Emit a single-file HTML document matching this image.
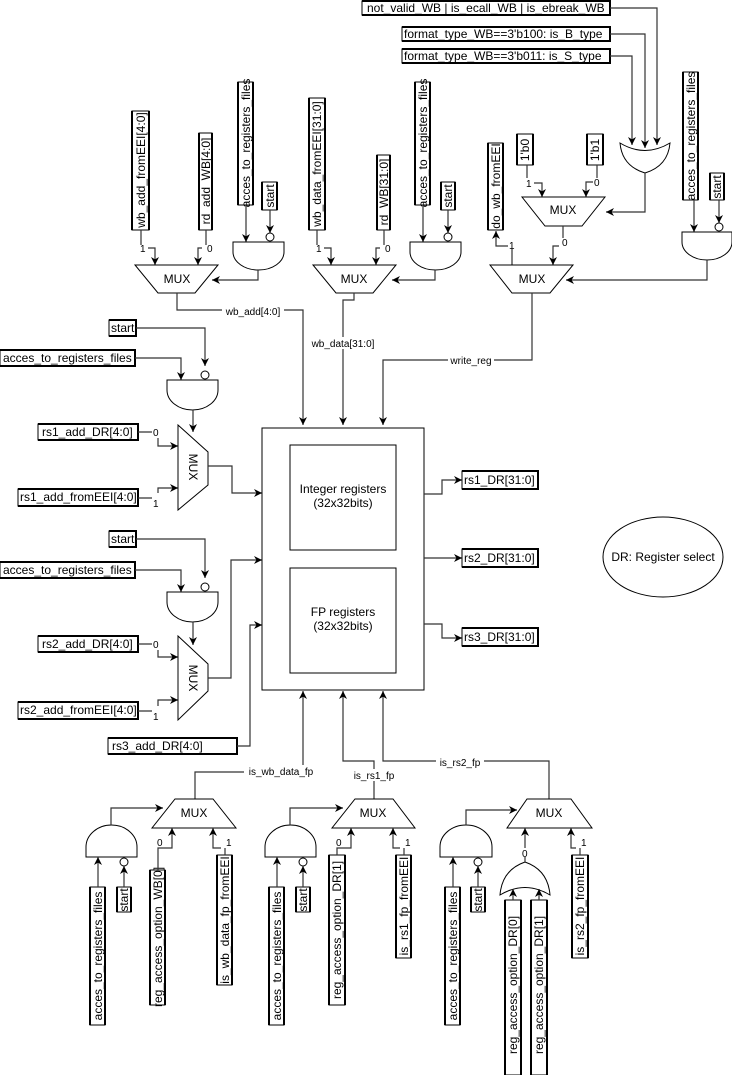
<!DOCTYPE html>
<html><head><meta charset="utf-8"><style>
html,body{margin:0;padding:0;background:#fff}
svg{display:block}
text{font-family:"Liberation Sans",Arial,sans-serif;font-size:12px;fill:#000}
.l{fill:none;stroke:#333;stroke-width:1.2}
.g{fill:#fff;stroke:#000;stroke-width:1}
.b{fill:#fff;stroke:#000;stroke-width:1}
.t{fill:none;stroke:#000;stroke-width:2}
.s{font-size:10px}
</style></head><body>
<svg width="732" height="1075" viewBox="0 0 732 1075" xmlns="http://www.w3.org/2000/svg">
<defs><marker id="a" viewBox="0 0 10 10" refX="10" refY="5" markerWidth="8" markerHeight="8" orient="auto" markerUnits="userSpaceOnUse"><path d="M0,0 L10,5 L0,10 L3,5 Z" fill="#000"/></marker></defs>

<!-- top horizontal boxes -->
<rect class="b" x="362" y="1" width="248" height="14"/><path class="t" d="M362 1H610V15H362"/><text x="367" y="12">not_valid_WB | is_ecall_WB | is_ebreak_WB</text>
<rect class="b" x="402" y="27" width="208" height="14"/><path class="t" d="M402 27H610V41H402"/><text x="404" y="38">format_type_WB==3'b100: is_B_type</text>
<rect class="b" x="402" y="49" width="208" height="14"/><path class="t" d="M402 49H610V63H402"/><text x="404" y="60">format_type_WB==3'b011: is_S_type</text>
<path class="l" d="M610 8H657V145" marker-end="url(#a)"/>
<path class="l" d="M610 34H645V148" marker-end="url(#a)"/>
<path class="l" d="M610 56H632V145" marker-end="url(#a)"/>
<path class="g" d="M620 143 Q645 158 670 143 Q668 166 645 173 Q622 166 620 143 Z"/>
<path class="l" d="M645 173V212H606" marker-end="url(#a)"/>

<!-- group 1 -->
<rect class="b" x="132" y="111" width="17" height="119"/><path class="t" d="M132 111V230M149 111V230"/>
<text transform="translate(141,170) rotate(-90)" text-anchor="middle" dominant-baseline="central">wb_add_fromEEI[4:0]</text>
<rect class="b" x="199" y="133" width="13" height="97"/><path class="t" d="M199 133V230M212 133V230"/>
<text transform="translate(206,181) rotate(-90)" text-anchor="middle" dominant-baseline="central">rd_add_WB[4:0]</text>
<rect class="b" x="238" y="82" width="15" height="123"/><path class="t" d="M238 82V205M253 82V205"/>
<text transform="translate(246,143) rotate(-90)" text-anchor="middle" dominant-baseline="central">acces_to_registers_files</text>
<rect class="b" x="262" y="182" width="15" height="28"/><path class="t" d="M262 182V210M277 182V210"/>
<text transform="translate(270,196) rotate(-90)" text-anchor="middle" dominant-baseline="central">start</text>
<path class="l" d="M141 230V245M148 248H155V265" marker-end="url(#a)"/><text x="140" y="252" class="s">1</text>
<path class="l" d="M206 230V245M202 248H198V265" marker-end="url(#a)"/><text x="207" y="252" class="s">0</text>
<path class="l" d="M246 205V242" marker-end="url(#a)"/>
<path class="l" d="M270 210V233" marker-end="url(#a)"/>
<circle class="g" cx="270" cy="237" r="4"/>
<path class="g" d="M233 242H284V252A25.5 18 0 0 1 233 252Z"/>
<path class="l" d="M258 270V280H212" marker-end="url(#a)"/>
<path class="g" d="M135 265H218L195 293H158Z"/><text x="177" y="283" text-anchor="middle">MUX</text>
<path class="l" d="M177 293V310H303V425" marker-end="url(#a)"/>
<rect x="222" y="305" width="62" height="12" fill="#fff"/><text x="253" y="315" text-anchor="middle" class="s">wb_add[4:0]</text>

<!-- group 2 -->
<rect class="b" x="309" y="98" width="16" height="132"/><path class="t" d="M309 98V230M325 98V230"/>
<text transform="translate(317,164) rotate(-90)" text-anchor="middle" dominant-baseline="central">wb_data_fromEEI[31:0]</text>
<rect class="b" x="377" y="155" width="13" height="75"/><path class="t" d="M377 155V230M390 155V230"/>
<text transform="translate(384,192) rotate(-90)" text-anchor="middle" dominant-baseline="central">rd_WB[31:0]</text>
<rect class="b" x="415" y="82" width="15" height="123"/><path class="t" d="M415 82V205M430 82V205"/>
<text transform="translate(423,143) rotate(-90)" text-anchor="middle" dominant-baseline="central">acces_to_registers_files</text>
<rect class="b" x="441" y="182" width="14" height="28"/><path class="t" d="M441 182V210M455 182V210"/>
<text transform="translate(448,196) rotate(-90)" text-anchor="middle" dominant-baseline="central">start</text>
<path class="l" d="M317 230V245M324 248H331V265" marker-end="url(#a)"/><text x="316" y="252" class="s">1</text>
<path class="l" d="M384 230V245M380 248H376V265" marker-end="url(#a)"/><text x="385" y="252" class="s">0</text>
<path class="l" d="M423 205V242" marker-end="url(#a)"/>
<path class="l" d="M448 210V233" marker-end="url(#a)"/>
<circle class="g" cx="448" cy="237" r="4"/>
<path class="g" d="M410 242H461V252A25.5 18 0 0 1 410 252Z"/>
<path class="l" d="M435 270V280H392" marker-end="url(#a)"/>
<path class="g" d="M313 265H396L373 293H336Z"/><text x="354" y="283" text-anchor="middle">MUX</text>
<path class="l" d="M354 293V300H343V425" marker-end="url(#a)"/>
<rect x="318" y="337" width="50" height="12" fill="#fff"/><text x="343" y="347" text-anchor="middle" class="s">wb_data[31:0]</text>

<!-- group 3 -->
<rect class="b" x="488" y="143" width="15" height="87"/><path class="t" d="M488 143V230M503 143V230"/>
<text transform="translate(496,186) rotate(-90)" text-anchor="middle" dominant-baseline="central">do_wb_fromEEI</text>
<rect class="b" x="517" y="134" width="16" height="31"/><path class="t" d="M517 134V165M533 134V165"/>
<text transform="translate(525,150) rotate(-90)" text-anchor="middle" dominant-baseline="central">1'b0</text>
<rect class="b" x="587" y="134" width="16" height="31"/><path class="t" d="M587 134V165M603 134V165"/>
<text transform="translate(595,150) rotate(-90)" text-anchor="middle" dominant-baseline="central">1'b1</text>
<path class="l" d="M527 165V178M534 183H542V197" marker-end="url(#a)"/><text x="526" y="187" class="s">1</text>
<path class="l" d="M597 165V178M593 182H586V197" marker-end="url(#a)"/><text x="594" y="186" class="s">0</text>
<path class="g" d="M522 197H605L582 226H545Z"/><text x="563" y="214" text-anchor="middle">MUX</text>
<path class="l" d="M563 226V238M559 246H553V265" marker-end="url(#a)"/><text x="562" y="246" class="s">0</text>
<path class="l" d="M512 265V249M508 246H496V231" marker-end="url(#a)"/><text x="509" y="249" class="s">1</text>
<path class="g" d="M490 265H573L550 293H512Z"/><text x="532" y="283" text-anchor="middle">MUX</text>
<rect class="b" x="683" y="72" width="15" height="128"/><path class="t" d="M683 72V200M698 72V200"/>
<text transform="translate(691,136) rotate(-90)" text-anchor="middle" dominant-baseline="central">acces_to_registers_files</text>
<rect class="b" x="710" y="173" width="14" height="27"/><path class="t" d="M710 173V200M724 173V200"/>
<text transform="translate(717,187) rotate(-90)" text-anchor="middle" dominant-baseline="central">start</text>
<path class="l" d="M694 200V232" marker-end="url(#a)"/>
<path class="l" d="M719 200V223" marker-end="url(#a)"/>
<circle class="g" cx="719" cy="227" r="4"/>
<path class="g" d="M682 232H732V242A25 18 0 0 1 682 242Z"/>
<path class="l" d="M707 260V280H566" marker-end="url(#a)"/>
<path class="l" d="M532 293V360H383V425" marker-end="url(#a)"/>
<rect x="448" y="354" width="46" height="12" fill="#fff"/><text x="471" y="364" text-anchor="middle" class="s">write_reg</text>

<!-- left side rs1 -->
<rect class="b" x="109" y="320" width="27" height="16"/><path class="t" d="M109 320H136V336H109"/><text x="111" y="332">start</text>
<rect class="b" x="0" y="350" width="135" height="16"/><path class="t" d="M0 350H135V366H0"/><text x="3" y="362">acces_to_registers_files</text>
<path class="l" d="M136 328H205V366" marker-end="url(#a)"/>
<circle class="g" cx="205" cy="375" r="4"/>
<path class="l" d="M135 358H181V380" marker-end="url(#a)"/>
<path class="g" d="M167 380H218V390A25.5 20 0 0 1 167 390Z"/>
<path class="l" d="M193 410V432" marker-end="url(#a)"/>
<rect class="b" x="38" y="424" width="100" height="16"/><path class="t" d="M38 424H138V440H38"/><text x="42" y="436">rs1_add_DR[4:0]</text>
<rect class="b" x="18" y="489" width="120" height="17"/><path class="t" d="M18 489H138V506H18"/><text x="20" y="501">rs1_add_fromEEI[4:0]</text>
<path class="l" d="M138 432H152M158 438V446H178" marker-end="url(#a)"/><text x="153" y="436" class="s">0</text>
<path class="l" d="M138 498H152M158 493V488H178" marker-end="url(#a)"/><text x="153" y="507" class="s">1</text>
<path class="g" d="M178 425L208 452V485L178 510Z"/>
<text transform="translate(193,467) rotate(90)" text-anchor="middle" dominant-baseline="central">MUX</text>
<path class="l" d="M208 466H232V493H262" marker-end="url(#a)"/>

<!-- left side rs2 -->
<rect class="b" x="109" y="531" width="27" height="16"/><path class="t" d="M109 531H136V547H109"/><text x="111" y="543">start</text>
<rect class="b" x="0" y="562" width="135" height="16"/><path class="t" d="M0 562H135V578H0"/><text x="3" y="574">acces_to_registers_files</text>
<path class="l" d="M136 539H205V578" marker-end="url(#a)"/>
<circle class="g" cx="205" cy="587" r="4"/>
<path class="l" d="M135 570H181V592" marker-end="url(#a)"/>
<path class="g" d="M167 592H218V602A25.5 20 0 0 1 167 602Z"/>
<path class="l" d="M193 622V645" marker-end="url(#a)"/>
<rect class="b" x="38" y="636" width="100" height="16"/><path class="t" d="M38 636H138V652H38"/><text x="42" y="648">rs2_add_DR[4:0]</text>
<rect class="b" x="18" y="702" width="120" height="17"/><path class="t" d="M18 702H138V719H18"/><text x="20" y="714">rs2_add_fromEEI[4:0]</text>
<path class="l" d="M138 644H152M158 650V657H178" marker-end="url(#a)"/><text x="153" y="648" class="s">0</text>
<path class="l" d="M138 711H152M158 706V700H178" marker-end="url(#a)"/><text x="153" y="720" class="s">1</text>
<path class="g" d="M178 636L208 664V691L178 720Z"/>
<text transform="translate(193,678) rotate(90)" text-anchor="middle" dominant-baseline="central">MUX</text>
<path class="l" d="M208 678H231V560H262" marker-end="url(#a)"/>
<rect class="b" x="108" y="738" width="129" height="16"/><path class="t" d="M108 738H237V754H108"/><text x="112" y="750">rs3_add_DR[4:0]</text>
<path class="l" d="M237 746H250V625H262" marker-end="url(#a)"/>

<!-- register file -->
<rect class="g" x="262" y="428" width="162" height="262"/>
<rect class="g" x="290" y="445" width="106" height="105"/>
<text x="343" y="493" text-anchor="middle">Integer registers</text><text x="343" y="507" text-anchor="middle">(32x32bits)</text>
<rect class="g" x="290" y="568" width="106" height="105"/>
<text x="343" y="616" text-anchor="middle">FP registers</text><text x="343" y="630" text-anchor="middle">(32x32bits)</text>
<path class="l" d="M424 494H442V480H462" marker-end="url(#a)"/>
<path class="l" d="M424 558H462" marker-end="url(#a)"/>
<path class="l" d="M424 624H442V638H462" marker-end="url(#a)"/>
<rect class="b" x="462" y="471" width="76" height="18"/><path class="t" d="M462 471H538V489H462"/><text x="464" y="484">rs1_DR[31:0]</text>
<rect class="b" x="462" y="549" width="76" height="18"/><path class="t" d="M462 549H538V567H462"/><text x="464" y="562">rs2_DR[31:0]</text>
<rect class="b" x="462" y="628" width="76" height="18"/><path class="t" d="M462 628H538V646H462"/><text x="464" y="641">rs3_DR[31:0]</text>
<ellipse class="g" cx="663" cy="557" rx="60" ry="40"/><text x="663" y="561" text-anchor="middle">DR: Register select</text>

<!-- bottom connections -->
<path class="l" d="M195 800V772H303V691" marker-end="url(#a)"/>
<rect x="244" y="765" width="74" height="12" fill="#fff"/><text x="281" y="775" text-anchor="middle" class="s">is_wb_data_fp</text>
<path class="l" d="M374 800V761H343V691" marker-end="url(#a)"/>
<rect x="350" y="769" width="48" height="12" fill="#fff"/><text x="374" y="779" text-anchor="middle" class="s">is_rs1_fp</text>
<path class="l" d="M549 800V761H383V691" marker-end="url(#a)"/>
<rect x="436" y="756" width="48" height="12" fill="#fff"/><text x="460" y="766" text-anchor="middle" class="s">is_rs2_fp</text>

<!-- bottom group 1 -->
<path class="g" d="M175 799H213L236 828H152Z"/><text x="194" y="817" text-anchor="middle">MUX</text>
<path class="g" d="M86 857H137V847A25.5 22 0 0 0 86 847Z"/>
<path class="l" d="M111 825V808H163" marker-end="url(#a)"/>
<rect class="b" x="90" y="887" width="15" height="138"/><path class="t" d="M90 887V1025M105 887V1025"/>
<text transform="translate(98,956) rotate(-90)" text-anchor="middle" dominant-baseline="central">acces_to_registers_files</text>
<rect class="b" x="117" y="887" width="14" height="25"/><path class="t" d="M117 887V912M131 887V912"/>
<text transform="translate(124,900) rotate(-90)" text-anchor="middle" dominant-baseline="central">start</text>
<path class="l" d="M98 887V857" marker-end="url(#a)"/>
<path class="l" d="M124 887V866" marker-end="url(#a)"/><circle class="g" cx="124" cy="862" r="4"/>
<rect class="b" x="150" y="870" width="15" height="135"/><path class="t" d="M150 870V1005M165 870V1005"/>
<text transform="translate(158,937) rotate(-90)" text-anchor="middle" dominant-baseline="central">reg_access_option_WB[0]</text>
<rect class="b" x="217" y="855" width="15" height="130"/><path class="t" d="M217 855V985M232 855V985"/>
<text transform="translate(225,920) rotate(-90)" text-anchor="middle" dominant-baseline="central">is_wb_data_fp_fromEEI</text>
<path class="l" d="M158 870V848H172V828" marker-end="url(#a)"/><text x="157" y="846" class="s">0</text>
<path class="l" d="M225 855V848M221 848H213V828" marker-end="url(#a)"/><text x="226" y="846" class="s">1</text>

<!-- bottom group 2 -->
<path class="g" d="M355 799H393L415 828H332Z"/><text x="373" y="817" text-anchor="middle">MUX</text>
<path class="g" d="M265 857H316V847A25.5 22 0 0 0 265 847Z"/>
<path class="l" d="M290 825V808H343" marker-end="url(#a)"/>
<rect class="b" x="269" y="887" width="15" height="138"/><path class="t" d="M269 887V1025M284 887V1025"/>
<text transform="translate(277,956) rotate(-90)" text-anchor="middle" dominant-baseline="central">acces_to_registers_files</text>
<rect class="b" x="296" y="887" width="14" height="25"/><path class="t" d="M296 887V912M310 887V912"/>
<text transform="translate(303,900) rotate(-90)" text-anchor="middle" dominant-baseline="central">start</text>
<path class="l" d="M277 887V857" marker-end="url(#a)"/>
<path class="l" d="M303 887V866" marker-end="url(#a)"/><circle class="g" cx="303" cy="862" r="4"/>
<rect class="b" x="329" y="855" width="16" height="150"/><path class="t" d="M329 855V1005M345 855V1005"/>
<text transform="translate(337,930) rotate(-90)" text-anchor="middle" dominant-baseline="central">reg_access_option_DR[1]</text>
<rect class="b" x="396" y="855" width="15" height="103"/><path class="t" d="M396 855V958M411 855V958"/>
<text transform="translate(404,906) rotate(-90)" text-anchor="middle" dominant-baseline="central">is_rs1_fp_fromEEI</text>
<path class="l" d="M337 855V848H351V828" marker-end="url(#a)"/><text x="336" y="846" class="s">0</text>
<path class="l" d="M404 855V848M400 848H393V828" marker-end="url(#a)"/><text x="405" y="846" class="s">1</text>

<!-- bottom group 3 -->
<path class="g" d="M527 799H571L592 828H507Z"/><text x="549" y="817" text-anchor="middle">MUX</text>
<path class="g" d="M440 857H492V847A26 22 0 0 0 440 847Z"/>
<path class="l" d="M466 825V810H517" marker-end="url(#a)"/>
<rect class="b" x="445" y="887" width="15" height="138"/><path class="t" d="M445 887V1025M460 887V1025"/>
<text transform="translate(453,956) rotate(-90)" text-anchor="middle" dominant-baseline="central">acces_to_registers_files</text>
<rect class="b" x="471" y="887" width="14" height="25"/><path class="t" d="M471 887V912M485 887V912"/>
<text transform="translate(478,900) rotate(-90)" text-anchor="middle" dominant-baseline="central">start</text>
<path class="l" d="M453 887V857" marker-end="url(#a)"/>
<path class="l" d="M478 887V866" marker-end="url(#a)"/><circle class="g" cx="478" cy="862" r="4"/>
<path class="g" d="M500 895 Q525 880 550 895 Q548 870 525 862 Q502 870 500 895 Z"/>
<path class="l" d="M525 862V857M525 848V828" marker-end="url(#a)"/><text x="522" y="857" class="s">0</text>
<rect class="b" x="505" y="900" width="16" height="175"/><path class="t" d="M505 900V1075M521 900V1075"/>
<text transform="translate(513,985) rotate(-90)" text-anchor="middle" dominant-baseline="central">reg_access_option_DR[0]</text>
<rect class="b" x="531" y="900" width="16" height="175"/><path class="t" d="M531 900V1075M547 900V1075"/>
<text transform="translate(539,985) rotate(-90)" text-anchor="middle" dominant-baseline="central">reg_access_option_DR[1]</text>
<path class="l" d="M513 900V889" marker-end="url(#a)"/>
<path class="l" d="M539 900V889" marker-end="url(#a)"/>
<rect class="b" x="572" y="855" width="16" height="103"/><path class="t" d="M572 855V958M588 855V958"/>
<text transform="translate(580,906) rotate(-90)" text-anchor="middle" dominant-baseline="central">is_rs2_fp_fromEEI</text>
<path class="l" d="M580 855V848M576 848H571V828" marker-end="url(#a)"/><text x="581" y="846" class="s">1</text>
</svg>
</body></html>
